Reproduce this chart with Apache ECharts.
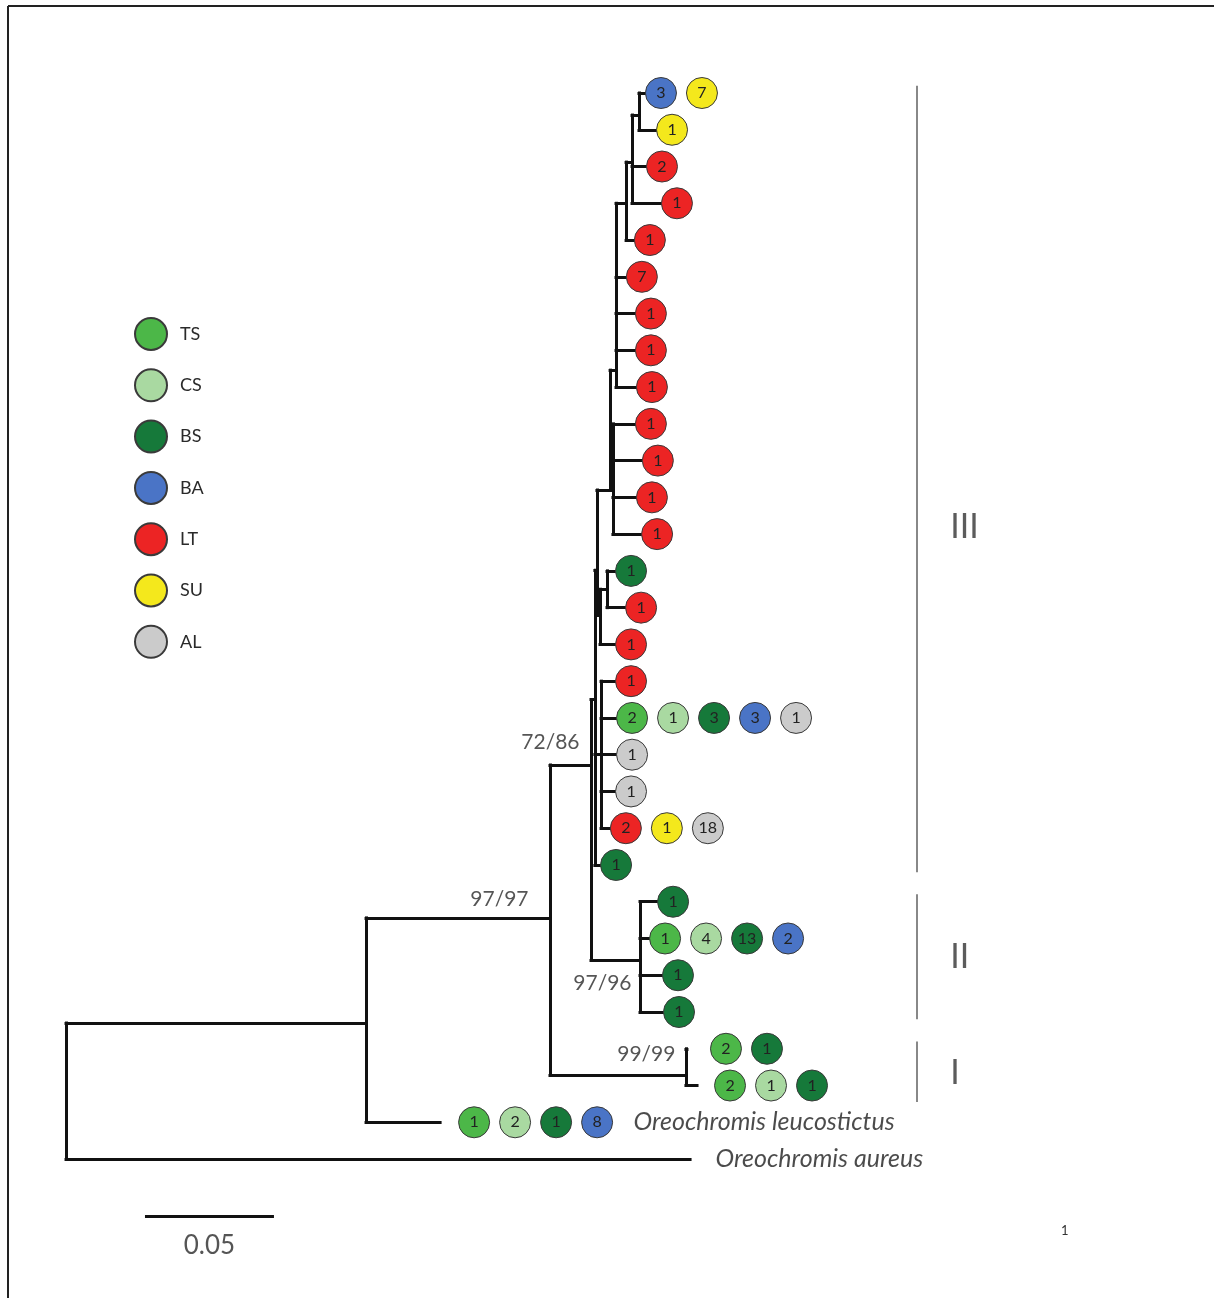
<!DOCTYPE html>
<html>
<head>
<meta charset="utf-8">
<title>Haplotype tree</title>
<script src="https://cdn.jsdelivr.net/npm/echarts@6/dist/echarts.min.js"></script>
<style>
  html, body { margin: 0; padding: 0; background: #fff; }
  #tree { width: 1214px; height: 1298px; }
</style>
</head>
<body>
<div id="tree"></div>
<script>
  // sampling regions (legend order)
  const regions = ['TS', 'CS', 'BS', 'BA', 'LT', 'SU', 'AL'];
  const regionColors = ['#4cb748', '#a9d9a1', '#16793a', '#4a74c6', '#ec2424', '#f4e81c', '#cbcbcb'];

  // internal nodes: id, parent, depth (subst./site), row it hangs at
  const internalNodes = [
    ['root', null, 0, 0],
    ['A', 'root', 0.1163, 25.30],
    ['B', 'A', 0.1876, 22.44],
    ['C', 'B', 0.2035, 18.28],
    ['n595', 'C', 0.2050, 16.50],
    ['n597', 'n595', 0.2058, 12.98],
    ['n610', 'n597', 0.2109, 10.80],
    ['n616', 'n610', 0.2132, 7.54],
    ['n626', 'n616', 0.2171, 3.00],
    ['n632', 'n626', 0.2194, 1.88],
    ['n639', 'n632', 0.2221, 0.60],
    ['n613', 'n610', 0.2120, 10.80],
    ['n600', 'n597', 0.2070, 14.20],
    ['n607', 'n600', 0.2097, 13.50],
    ['n601', 'n595', 0.2074, 18.00],
    ['II', 'C', 0.2225, 23.59],
    ['I', 'B', 0.2403, 26.71]
  ];

  // tips, one per row (top to bottom)
  const tipParent = [
    'n639', 'n639', 'n632', 'n632', 'n626',
    'n616', 'n616', 'n616', 'n616',
    'n613', 'n613', 'n613', 'n613',
    'n607', 'n607', 'n600',
    'n601', 'n601', 'n601', 'n601', 'n601',
    'n595',
    'II', 'II', 'II', 'II',
    'I', 'I',
    'A', 'root'
  ];
  const tipDepth = [
    0.2248, 0.2291, 0.2252, 0.2310, 0.2205,
    0.2174, 0.2209, 0.2209, 0.2213,
    0.2209, 0.2236, 0.2213, 0.2233,
    0.2132, 0.2171, 0.2132,
    0.2132, 0.2136, 0.2136, 0.2132, 0.2112,
    0.2074,
    0.2295, 0.2264, 0.2314, 0.2318,
    0.2407, 0.2446,
    0.1450, 0.2419
  ];

  // haplotype counts per region at each tip
  const tipHaplotypes = [
    [['BA', 3], ['SU', 7]],
    [['SU', 1]],
    [['LT', 2]],
    [['LT', 1]],
    [['LT', 1]],
    [['LT', 7]],
    [['LT', 1]],
    [['LT', 1]],
    [['LT', 1]],
    [['LT', 1]],
    [['LT', 1]],
    [['LT', 1]],
    [['LT', 1]],
    [['BS', 1]],
    [['LT', 1]],
    [['LT', 1]],
    [['LT', 1]],
    [['TS', 2], ['CS', 1], ['BS', 3], ['BA', 3], ['AL', 1]],
    [['AL', 1]],
    [['AL', 1]],
    [['LT', 2], ['SU', 1], ['AL', 18]],
    [['BS', 1]],
    [['BS', 1]],
    [['TS', 1], ['CS', 4], ['BS', 13], ['BA', 2]],
    [['BS', 1]],
    [['BS', 1]],
    [['TS', 2], ['BS', 1]],
    [['TS', 2], ['CS', 1], ['BS', 1]],
    [['TS', 1], ['CS', 2], ['BS', 1], ['BA', 8]],
    []
  ];

  const speciesNames = [[28, 'Oreochromis leucostictus'], [29, 'Oreochromis aureus']];
  const supportValues = [['C', '72/86'], ['B', '97/97'], ['II', '97/96'], ['I', '99/99']];
  const clades = [['III', 0, 21], ['II', 22, 25], ['I', 26, 27]];
  const scaleLength = 0.05;

  // axes range
  const X_MIN = -0.0256, X_MAX = 0.445;
  const Y_MIN = -2.53, Y_MAX = 32.78;
  const W = 1214;
  const pxPerUnit = W / (X_MAX - X_MIN);
  const px = function (p) { return p / pxPerUnit; };
  const FONT = 'Lato, "Open Sans", sans-serif';

  // build branch segments
  const nodeById = {};
  internalNodes.forEach(function (n) {
    nodeById[n[0]] = { id: n[0], parent: n[1], depth: n[2], row: n[3], kidRows: [] };
  });
  internalNodes.forEach(function (n) {
    if (n[1]) nodeById[n[1]].kidRows.push(n[3]);
  });
  tipParent.forEach(function (p, row) { nodeById[p].kidRows.push(row); });

  const branches = [];
  internalNodes.forEach(function (n) {
    const node = nodeById[n[0]];
    const lo = Math.min.apply(null, node.kidRows);
    const hi = Math.max.apply(null, node.kidRows);
    branches.push({ coords: [[node.depth, lo], [node.depth, hi]] });
    if (node.parent) {
      branches.push({ coords: [[nodeById[node.parent].depth, node.row], [node.depth, node.row]] });
    }
  });
  tipParent.forEach(function (p, row) {
    branches.push({ coords: [[nodeById[p].depth, row], [tipDepth[row], row]] });
  });

  // haplotype circles, grouped by region
  const tipGap = { 26: 24, 27: 18, 28: 19 };
  const circleData = {};
  regions.forEach(function (r) { circleData[r] = []; });
  tipHaplotypes.forEach(function (haps, row) {
    const gap = tipGap[row] || 0;
    haps.forEach(function (h, k) {
      circleData[h[0]].push([tipDepth[row] + px(15 + gap + 41 * k), row, h[1]]);
    });
  });

  const circleSeries = regions.map(function (r, i) {
    return {
      type: 'scatter',
      name: r,
      symbol: 'circle',
      symbolSize: 31,
      itemStyle: { color: regionColors[i], borderColor: '#3a3a3a', borderWidth: 1, opacity: 1 },
      label: {
        show: true, position: 'inside', color: '#222', fontSize: 16, fontFamily: FONT,
        formatter: function (p) { return p.value[2]; }
      },
      data: circleData[r],
      z: 4
    };
  });

  // species text after the last circle (or the branch end)
  const speciesData = speciesNames.map(function (s) {
    const row = s[0];
    const n = tipHaplotypes[row].length;
    const x = n ? tipDepth[row] + px(15 + (tipGap[row] || 0) + 41 * (n - 1) + 16 + 20)
                : tipDepth[row] + px(25);
    return { value: [x, row], name: s[1] };
  });

  const supportOffset = { C: [-11, -22], B: [-21, -18], II: [-8, 24], I: [-10, -20] };
  const supportData = supportValues.map(function (s) {
    const node = nodeById[s[0]];
    return {
      value: [node.depth, node.row], name: s[1],
      label: { position: supportOffset[s[0]] }
    };
  });

  const cladeX = 0.3298;
  const cladeLabelDy = { III: 48, II: 0, I: 6 };
  const cladeBars = clades.map(function (c) {
    return { coords: [[cladeX, c[1] - 0.2], [cladeX, c[2] + (c[0] === 'I' ? 0.45 : 0.2)]] };
  });
  const cladeLabels = clades.map(function (c) {
    return {
      value: [cladeX, (c[1] + c[2]) / 2], name: c[0],
      label: { offset: [0, cladeLabelDy[c[0]]] }
    };
  });

  const scaleX = 0.0306, scaleRow = 30.55;

  const chart = echarts.init(document.getElementById('tree'));
  chart.setOption({
    animation: false,
    backgroundColor: '#fff',
    grid: { left: 0, right: 0, top: 0, bottom: 0 },
    xAxis: { type: 'value', min: X_MIN, max: X_MAX, show: false },
    yAxis: { type: 'value', min: Y_MIN, max: Y_MAX, inverse: true, show: false },
    legend: {
      data: regions,
      orient: 'vertical',
      left: 134,
      top: 317,
      padding: 0,
      itemWidth: 32,
      itemHeight: 32,
      itemGap: 17.3,
      icon: 'circle',
      selectedMode: false,
      textStyle: { color: '#2a2a2a', fontSize: 18, lineHeight: 20, fontFamily: FONT, padding: [0, 0, 0, 8] }
    },
    graphic: [
      { type: 'line', shape: { x1: 8, y1: 6, x2: 1214, y2: 6 }, style: { stroke: '#222', lineWidth: 2 } },
      { type: 'line', shape: { x1: 8, y1: 6, x2: 8, y2: 1298 }, style: { stroke: '#222', lineWidth: 2 } },
      { type: 'text', left: 1061, top: 1224, style: { text: '1', fontSize: 13, fill: '#333', fontFamily: FONT } }
    ],
    series: [
      {
        type: 'lines', coordinateSystem: 'cartesian2d', polyline: false, silent: true,
        lineStyle: { color: '#111', width: 3, opacity: 1, cap: 'square' },
        data: branches, z: 2
      },
      {
        type: 'lines', coordinateSystem: 'cartesian2d', polyline: false, silent: true,
        lineStyle: { color: '#888', width: 2, opacity: 1 },
        data: cladeBars, z: 2
      },
      {
        type: 'lines', coordinateSystem: 'cartesian2d', polyline: false, silent: true,
        lineStyle: { color: '#111', width: 3, opacity: 1 },
        data: [{ coords: [[scaleX, scaleRow], [scaleX + scaleLength, scaleRow]] }], z: 2
      }
    ].concat(circleSeries).concat([
      {
        type: 'scatter', symbolSize: 1, itemStyle: { color: 'rgba(0,0,0,0)' }, silent: true,
        label: {
          show: true, position: 'right', distance: 0, formatter: '{b}',
          color: '#1e1e1e', fontSize: 25, fontStyle: 'italic', fontFamily: FONT
        },
        data: speciesData
      },
      {
        type: 'scatter', symbolSize: 1, itemStyle: { color: 'rgba(0,0,0,0)' }, silent: true,
        label: {
          show: true, formatter: '{b}', align: 'right', verticalAlign: 'middle',
          color: '#2a2a2a', fontSize: 21, fontFamily: FONT
        },
        data: supportData, z: 5
      },
      {
        type: 'scatter', symbolSize: 1, itemStyle: { color: 'rgba(0,0,0,0)' }, silent: true,
        label: {
          show: true, position: 'right', distance: 33, formatter: '{b}',
          color: '#333', fontSize: 34, fontFamily: FONT
        },
        data: cladeLabels
      },
      {
        type: 'scatter', symbolSize: 1, itemStyle: { color: 'rgba(0,0,0,0)' }, silent: true,
        label: {
          show: true, position: 'inside', formatter: '{b}',
          color: '#2a2a2a', fontSize: 26, fontFamily: FONT
        },
        data: [{ value: [scaleX + scaleLength / 2, scaleRow + 0.8], name: String(scaleLength) }]
      }
    ])
  });
</script>
</body>
</html>
